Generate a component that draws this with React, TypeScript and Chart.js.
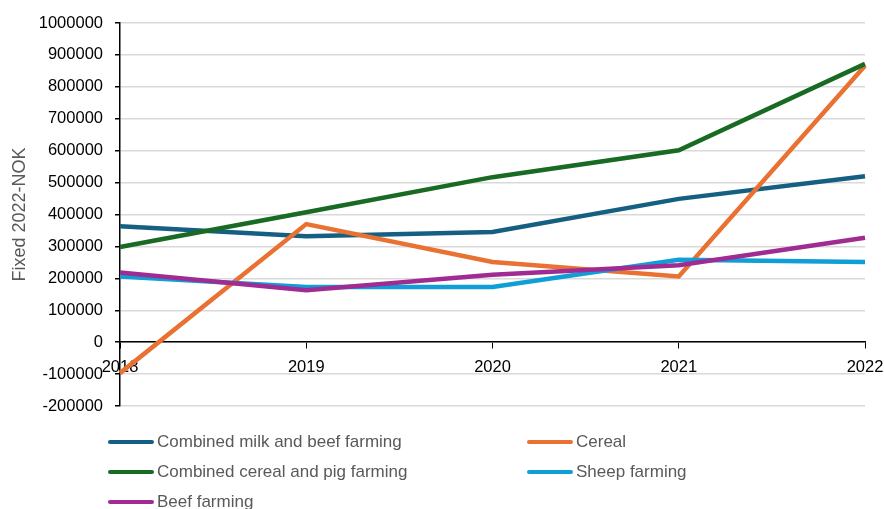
import React, { useEffect, useRef } from "react";
import { Chart, registerables } from "chart.js";

Chart.register(...registerables);

const years = ["2018", "2019", "2020", "2021", "2022"];
const milkBeef = [363000, 332000, 345000, 449000, 520000];
const cereal = [-97000, 370000, 251000, 206000, 866000];
const cerealPig = [298000, 407000, 517000, 601000, 872000];
const sheep = [206000, 173000, 173000, 258000, 251000];
const beef = [218000, 163000, 211000, 241000, 327000];

const seriesNames = [
  "Combined milk and beef farming",
  "Cereal",
  "Combined cereal and pig farming",
  "Sheep farming",
  "Beef farming",
];
const seriesColors = ["#156082", "#E97132", "#196B24", "#0F9ED5", "#A02B93"];
const seriesData = [milkBeef, cereal, cerealPig, sheep, beef];

const yTitle = "Fixed 2022-NOK";

export default function App() {
  const ref = useRef<HTMLCanvasElement | null>(null);

  useEffect(() => {
    document.body.style.margin = "0";
    const ctx = ref.current!;
    const chart = new Chart(ctx, {
      type: "line",
      data: {
        labels: years,
        datasets: seriesData.map((d, i) => ({
          label: seriesNames[i],
          data: d,
          borderColor: seriesColors[i],
          backgroundColor: seriesColors[i],
          borderWidth: 4.5,
          pointRadius: 0,
          tension: 0,
          order: 5 - i,
        })),
      },
      options: {
        animation: false,
        responsive: false,
        layout: { padding: { top: 23, bottom: 103, right: 19, left: 0 } },
        plugins: { legend: { display: false }, tooltip: { enabled: false } },
        scales: {
          x: {
            type: "category",
            position: { y: 0 } as any,
            offset: false,
            afterFit: (s: any) => {
              s.paddingLeft = 0;
              s.paddingRight = 0;
            },
            grid: {
              display: true,
              drawOnChartArea: false,
              drawTicks: true,
              tickLength: 6,
              tickColor: "#000",
              color: "#000",
            },
            border: { color: "#000", width: 1.5 },
            ticks: {
              color: "#000",
              font: { family: "Liberation Sans", size: 16.5 },
              padding: 9,
              maxRotation: 0,
            },
          },
          y: {
            min: -200000,
            max: 1000000,
            afterFit: (s: any) => {
              s.width = 120;
            },
            grid: {
              color: "#d9d9d9",
              lineWidth: 1.5,
              drawTicks: true,
              tickLength: 5,
              tickColor: "#000",
            },
            border: { color: "#000", width: 1.5 },
            ticks: {
              stepSize: 100000,
              color: "#000",
              font: { family: "Liberation Sans", size: 16.5 },
              padding: 12,
              callback: (v: any) => String(v),
            },
            title: {
              display: true,
              text: yTitle,
              color: "#595959",
              font: { family: "Liberation Sans", size: 18 },
              padding: { top: 9, bottom: 0 },
            },
          },
        },
      },
    });
    return () => chart.destroy();
  }, []);

  const legendPos = [
    { left: 108, top: 442 },
    { left: 527, top: 442 },
    { left: 108, top: 472 },
    { left: 527, top: 472 },
    { left: 108, top: 502 },
  ];

  return (
    <div style={{ position: "relative", width: 884, height: 509, overflow: "hidden", background: "#fff" }}>
      <canvas ref={ref} width={884} height={509} style={{ display: "block" }} />
      {seriesNames.map((n, i) => (
        <div
          key={n}
          style={{
            position: "absolute",
            left: legendPos[i].left,
            top: legendPos[i].top - 11,
            height: 22,
            display: "flex",
            alignItems: "center",
            whiteSpace: "nowrap",
            fontFamily: "'Liberation Sans', sans-serif",
            fontSize: 17,
            color: "#595959",
          }}
        >
          <span
            style={{
              display: "inline-block",
              width: 46,
              height: 4.5,
              borderRadius: 2.5,
              background: seriesColors[i],
              marginRight: 3,
            }}
          />
          <span>{n}</span>
        </div>
      ))}
    </div>
  );
}
